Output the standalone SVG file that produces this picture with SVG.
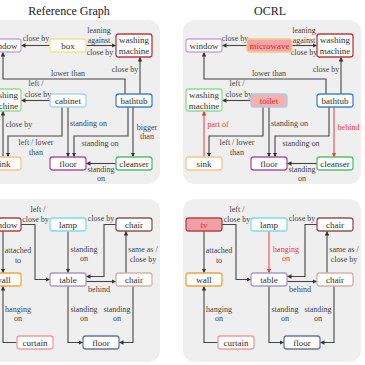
<svg xmlns="http://www.w3.org/2000/svg" width="365" height="365" viewBox="0 0 365 365">
<style>
.p{fill:#efefef}
.n{fill:#fff;stroke-width:1.3}
.t{font-family:"Liberation Serif",serif;font-size:9px;fill:#303030;text-anchor:middle}
.tr{fill:#e02828}
.l{font-family:"Liberation Serif",serif;font-size:8px;fill:#454545;text-anchor:middle}
.lr{fill:#f03434}
.e{fill:none;stroke:#454545;stroke-width:1.1;marker-end:url(#a)}
.er{fill:none;stroke:#f04848;stroke-width:1.1;marker-end:url(#ar)}
.h{font-family:"Liberation Serif",serif;font-size:12px;fill:#222;text-anchor:middle}
</style>
<defs>
<marker id="a" viewBox="0 0 10 10" refX="10" refY="5" markerWidth="4.5" markerHeight="4.5" markerUnits="userSpaceOnUse" orient="auto"><path d="M0,0L10,5L0,10z" fill="#333"/></marker>
<marker id="ar" viewBox="0 0 10 10" refX="10" refY="5" markerWidth="4.5" markerHeight="4.5" markerUnits="userSpaceOnUse" orient="auto"><path d="M0,0L10,5L0,10z" fill="#f03434"/></marker>
</defs>
<rect width="365" height="365" fill="#fff"/>
<text class="h" x="69" y="15">Reference Graph</text>
<text class="h" x="270" y="15">OCRL</text>
<rect class="p" x="-18" y="20" width="178" height="164" rx="12"/>
<rect class="p" x="183" y="20" width="178" height="164" rx="12"/>
<rect class="p" x="-18" y="199" width="178" height="163" rx="12"/>
<rect class="p" x="183" y="199" width="178" height="163" rx="12"/>

<g id="edges">
<path class="e" d="M50,45.5H21"/>
<path class="e" d="M86,45.5H116"/>
<path class="e" d="M125,94V79H3V52"/>
<path class="e" d="M140,94V57"/>
<path class="e" d="M50,100.5H21"/>
<path class="e" d="M62,107V136H8V157"/>
<path class="e" d="M68,107V157"/>
<path class="e" d="M3,157V111"/>
<path class="e" d="M128,107V136H74V157"/>
<path class="e" d="M133,107V157"/>
<path class="e" d="M116,163.5H86"/>

<path class="e" d="M247,45.5H222"/>
<path class="e" d="M292,45.5H317"/>
<path class="e" d="M326,94V79H204V52"/>
<path class="e" d="M341,94V57"/>
<path class="e" d="M251,100.5H222"/>
<path class="e" d="M263,107V136H209V157"/>
<path class="e" d="M269,107V157"/>
<path class="er" d="M204,157V111"/>
<path class="e" d="M329,107V136H275V157"/>
<path class="er" d="M334,107V157"/>
<path class="e" d="M317,163.5H287"/>

<path class="e" d="M21,224.5H35V279.5H50"/>
<path class="e" d="M3,231V273"/>
<path class="e" d="M68,231V273"/>
<path class="e" d="M116,224.5H104V276.5H86"/>
<path class="e" d="M126,273V231"/>
<path class="e" d="M86,281.5H116"/>
<path class="e" d="M68,286V342.5H83"/>
<path class="e" d="M133,286V342.5H119"/>
<path class="e" d="M17,342.5H3V286"/>

<path class="e" d="M222,224.5H236V279.5H251"/>
<path class="e" d="M204,231V273"/>
<path class="er" d="M269,231V273"/>
<path class="e" d="M317,224.5H305V276.5H287"/>
<path class="e" d="M327,273V231"/>
<path class="e" d="M287,281.5H317"/>
<path class="e" d="M269,286V342.5H284"/>
<path class="e" d="M334,286V342.5H320"/>
<path class="e" d="M218,342.5H204V286"/>
</g>

<g id="labels">
<text class="l" x="36" y="41">close by</text>
<text class="l" x="99" y="32.5">leaning</text>
<text class="l" x="99" y="42.5">against</text>
<text class="l" x="100" y="54.5">close by</text>
<text class="l" x="68" y="75.5">lower than</text>
<text class="l" x="125" y="71.5">close by</text>
<text class="l" x="36" y="85.5">left /</text>
<text class="l" x="38" y="96.5">close by</text>
<text class="l" x="36" y="144.5">left / lower</text>
<text class="l" x="36" y="154.5">than</text>
<text class="l" x="88.5" y="125.5">standing on</text>
<text class="l" x="19" y="126.5">close by</text>
<text class="l" x="100" y="145.5">standing on</text>
<text class="l" x="147" y="129.5">bigger</text>
<text class="l" x="147" y="138.5">than</text>
<text class="l" x="101" y="171.5">standing</text>
<text class="l" x="101" y="181">on</text>

<text class="l" x="235" y="41">close by</text>
<text class="l" x="304" y="32.5">leaning</text>
<text class="l" x="304" y="42.5">against</text>
<text class="l" x="304" y="54.5">close by</text>
<text class="l" x="269" y="75.5">lower than</text>
<text class="l" x="326" y="71.5">close by</text>
<text class="l" x="237" y="85.5">left /</text>
<text class="l" x="239" y="96.5">close by</text>
<text class="l" x="237" y="144.5">left / lower</text>
<text class="l" x="237" y="154.5">than</text>
<text class="l" x="289.5" y="125.5">standing on</text>
<text class="l lr" x="218" y="126.5">part of</text>
<text class="l" x="301" y="145.5">standing on</text>
<text class="l lr" x="348.5" y="129.5">behind</text>
<text class="l" x="302" y="171.5">standing</text>
<text class="l" x="302" y="181">on</text>

<text class="l" x="38" y="211.5">left /</text>
<text class="l" x="35.5" y="221.5">close by</text>
<text class="l" x="18" y="252.5">attached</text>
<text class="l" x="18" y="262.5">to</text>
<text class="l" x="84" y="251.5">standing</text>
<text class="l" x="84" y="260.5">on</text>
<text class="l" x="101" y="220.5">close by</text>
<text class="l" x="143" y="251.5">same as /</text>
<text class="l" x="143" y="261.5">close by</text>
<text class="l" x="99" y="291.5">behind</text>
<text class="l" x="84" y="311.5">standing</text>
<text class="l" x="84" y="320.5">on</text>
<text class="l" x="117" y="311.5">standing</text>
<text class="l" x="117" y="320.5">on</text>
<text class="l" x="18" y="311.5">hanging</text>
<text class="l" x="18" y="320.5">on</text>

<text class="l" x="237" y="211.5">left /</text>
<text class="l" x="237" y="221.5">close by</text>
<text class="l" x="219" y="252.5">attached</text>
<text class="l" x="219" y="262.5">to</text>
<text class="l lr" x="286" y="251.5">hanging</text>
<text class="l lr" x="286" y="260.5">on</text>
<text class="l" x="302" y="220.5">close by</text>
<text class="l" x="344" y="251.5">same as /</text>
<text class="l" x="344" y="261.5">close by</text>
<text class="l" x="300" y="291.5">behind</text>
<text class="l" x="285" y="311.5">standing</text>
<text class="l" x="285" y="320.5">on</text>
<text class="l" x="318" y="311.5">standing</text>
<text class="l" x="318" y="320.5">on</text>
<text class="l" x="219" y="311.5">hanging</text>
<text class="l" x="219" y="320.5">on</text>
</g>

<g id="n-ref-window"><rect class="n" x="-15" y="39" width="36" height="13" rx="2.5" stroke="#c8a8dc"/><text class="t" x="3" y="48.5">window</text></g>
<g id="n-ref-box"><rect class="n" x="50" y="39" width="36" height="13" rx="2.5" stroke="#eee68a"/><text class="t" x="68" y="48.5">box</text></g>
<g id="n-ref-wm1"><rect class="n" x="116" y="34" width="36" height="23" rx="2.5" stroke="#c0393b"/><text class="t" x="134" y="43">washing</text><text class="t" x="134" y="54">machine</text></g>
<g id="n-ref-wm2"><rect class="n" x="-15" y="89" width="36" height="22" rx="2.5" stroke="#8fdc8f"/><text class="t" x="3" y="97.5">washing</text><text class="t" x="3" y="108.5">machine</text></g>
<g id="n-ref-cabinet"><rect class="n" x="50" y="94" width="36" height="13" rx="2.5" stroke="#a6d8e6"/><text class="t" x="68" y="103.5">cabinet</text></g>
<g id="n-ref-bathtub"><rect class="n" x="116" y="94" width="36" height="13" rx="2.5" stroke="#3a88d6"/><text class="t" x="134" y="103.5">bathtub</text></g>
<g id="n-ref-sink"><rect class="n" x="-15" y="157" width="36" height="13" rx="2.5" stroke="#f8c584"/><text class="t" x="3" y="166.5">sink</text></g>
<g id="n-ref-floor"><rect class="n" x="50" y="157" width="36" height="13" rx="2.5" stroke="#b44fa6"/><text class="t" x="68" y="166.5">floor</text></g>
<g id="n-ref-cleanser"><rect class="n" x="116" y="157" width="36" height="13" rx="2.5" stroke="#52c26c"/><text class="t" x="134" y="166.5">cleanser</text></g>

<g id="n-ocrl-window"><rect class="n" x="186" y="39" width="36" height="13" rx="2.5" stroke="#c8a8dc"/><text class="t" x="204" y="48.5">window</text></g>
<g id="n-ocrl-microwave"><rect class="n" x="247" y="39" width="45" height="13" rx="2.5" stroke="#f0d080" fill="#f8a4a4" style="fill:#f8a4a4"/><text class="t tr" x="269.5" y="48.5">microwave</text></g>
<g id="n-ocrl-wm1"><rect class="n" x="317" y="34" width="36" height="23" rx="2.5" stroke="#c0393b"/><text class="t" x="335" y="43">washing</text><text class="t" x="335" y="54">machine</text></g>
<g id="n-ocrl-wm2"><rect class="n" x="186" y="89" width="36" height="22" rx="2.5" stroke="#8fdc8f"/><text class="t" x="204" y="97.5">washing</text><text class="t" x="204" y="108.5">machine</text></g>
<g id="n-ocrl-toilet"><rect class="n" x="251" y="94" width="36" height="13" rx="2.5" stroke="#a6d0e0" style="fill:#f6b0b0"/><text class="t tr" x="269" y="103.5">toilet</text></g>
<g id="n-ocrl-bathtub"><rect class="n" x="317" y="94" width="36" height="13" rx="2.5" stroke="#3a88d6"/><text class="t" x="335" y="103.5">bathtub</text></g>
<g id="n-ocrl-sink"><rect class="n" x="186" y="157" width="36" height="13" rx="2.5" stroke="#f8c584"/><text class="t" x="204" y="166.5">sink</text></g>
<g id="n-ocrl-floor"><rect class="n" x="251" y="157" width="36" height="13" rx="2.5" stroke="#b44fa6"/><text class="t" x="269" y="166.5">floor</text></g>
<g id="n-ocrl-cleanser"><rect class="n" x="317" y="157" width="36" height="13" rx="2.5" stroke="#52c26c"/><text class="t" x="335" y="166.5">cleanser</text></g>

<g id="n-ref2-window"><rect class="n" x="-15" y="218" width="36" height="13" rx="2.5" stroke="#b0404a"/><text class="t" x="3" y="227.5">window</text></g>
<g id="n-ref2-lamp"><rect class="n" x="50" y="218" width="36" height="13" rx="2.5" stroke="#78e0e4"/><text class="t" x="68" y="227.5">lamp</text></g>
<g id="n-ref2-chair1"><rect class="n" x="116" y="218" width="36" height="13" rx="2.5" stroke="#8a5a52"/><text class="t" x="134" y="227.5">chair</text></g>
<g id="n-ref2-wall"><rect class="n" x="-15" y="273" width="36" height="13" rx="2.5" stroke="#f4a440"/><text class="t" x="3" y="282.5">wall</text></g>
<g id="n-ref2-table"><rect class="n" x="50" y="273" width="36" height="13" rx="2.5" stroke="#a89cc4"/><text class="t" x="68" y="282.5">table</text></g>
<g id="n-ref2-chair2"><rect class="n" x="116" y="273" width="36" height="13" rx="2.5" stroke="#d4b4a8"/><text class="t" x="134" y="282.5">chair</text></g>
<g id="n-ref2-curtain"><rect class="n" x="17" y="336" width="36" height="13" rx="2.5" stroke="#f49a9a"/><text class="t" x="35" y="345.5">curtain</text></g>
<g id="n-ref2-floor"><rect class="n" x="83" y="336" width="36" height="13" rx="2.5" stroke="#687890"/><text class="t" x="101" y="345.5">floor</text></g>

<g id="n-ocrl2-tv"><rect class="n" x="186" y="218" width="36" height="13" rx="2.5" stroke="#b8404a" style="fill:#f0a0a4"/><text class="t tr" x="204" y="227.5">tv</text></g>
<g id="n-ocrl2-lamp"><rect class="n" x="251" y="218" width="36" height="13" rx="2.5" stroke="#78e0e4"/><text class="t" x="269" y="227.5">lamp</text></g>
<g id="n-ocrl2-chair1"><rect class="n" x="317" y="218" width="36" height="13" rx="2.5" stroke="#8a5a52"/><text class="t" x="335" y="227.5">chair</text></g>
<g id="n-ocrl2-wall"><rect class="n" x="186" y="273" width="36" height="13" rx="2.5" stroke="#f4a440"/><text class="t" x="204" y="282.5">wall</text></g>
<g id="n-ocrl2-table"><rect class="n" x="251" y="273" width="36" height="13" rx="2.5" stroke="#a89cc4"/><text class="t" x="269" y="282.5">table</text></g>
<g id="n-ocrl2-chair2"><rect class="n" x="317" y="273" width="36" height="13" rx="2.5" stroke="#d4b4a8"/><text class="t" x="335" y="282.5">chair</text></g>
<g id="n-ocrl2-curtain"><rect class="n" x="218" y="336" width="36" height="13" rx="2.5" stroke="#f49a9a"/><text class="t" x="236" y="345.5">curtain</text></g>
<g id="n-ocrl2-floor"><rect class="n" x="284" y="336" width="36" height="13" rx="2.5" stroke="#687890"/><text class="t" x="302" y="345.5">floor</text></g>
</svg>
